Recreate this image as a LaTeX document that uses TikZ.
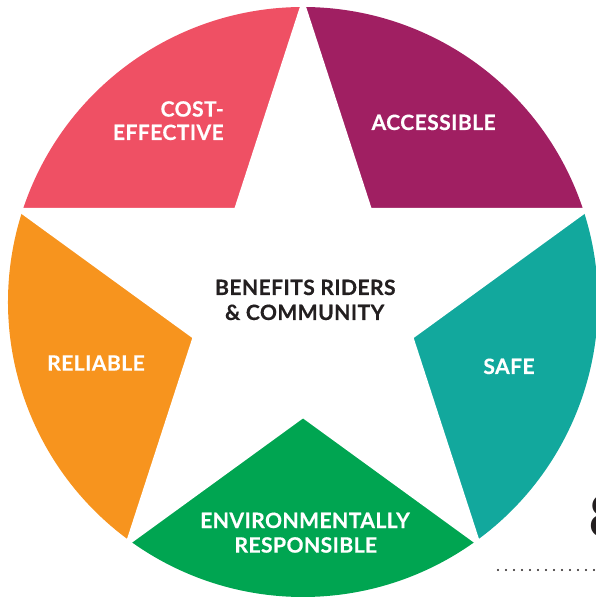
\documentclass[tikz,border=0pt]{standalone}
\usepackage{fontspec}
\newfontfamily\starfont{Lato}[LetterSpace=2, BoldFeatures={FakeBold=0.4}]
\tikzset{segtext/.style={inner sep=0pt}}
\begin{document}
\begin{tikzpicture}
                        \useasboundingbox (0.000000,0.000000) rectangle (14.900000,14.975000);
                        {\starfont\bfseries\fontsize{15}{18}\selectfont
                        
                        % Changing color 239 80 100
                        \definecolor{r239g80b100}{rgb}{0.937255,0.313725,0.392157}%
                        
                        % Drawing segment top upleft
                        \fill [r239g80b100] (7.575000,14.800000) arc [start angle=90, end angle=162, radius=7.375000] -- (5.919209,9.704000) -- cycle;%
                        
                        % Changing color 160 31 98
                        \definecolor{r160g31b98}{rgb}{0.627451,0.121569,0.384314}%
                        
                        % Drawing segment upright top
                        \fill [r160g31b98] (14.589042,9.704000) arc [start angle=18, end angle=90, radius=7.375000] -- (9.230791,9.704000) -- cycle;%
                        
                        % Changing color 18 168 157
                        \definecolor{r18g168b157}{rgb}{0.070588,0.658824,0.615686}%
                        
                        % Drawing segment downright upright
                        \fill [r18g168b157] (11.909917,1.458500) arc [start angle=-54, end angle=18, radius=7.375000] -- (10.254126,6.554499) -- cycle;%
                        
                        % Changing color 0 165 81
                        \definecolor{r0g165b81}{rgb}{0.000000,0.647059,0.317647}%
                        
                        % Drawing segment downleft downright
                        \fill [r0g165b81] (3.240083,1.458500) arc [start angle=234, end angle=306, radius=7.375000] -- (7.575000,4.608000) -- cycle;%
                        
                        % Changing color 247 148 30
                        \definecolor{r247g148b30}{rgb}{0.968627,0.580392,0.117647}%
                        
                        % Drawing segment upleft downleft
                        \fill [r247g148b30] (0.560958,9.704000) arc [start angle=162, end angle=234, radius=7.375000] -- (4.895874,6.554499) -- cycle;%
                        
                        % Drawing star top downleft upright upleft downright
                        \draw [white, line width=0.150000cm] (7.575000,14.800000) -- (3.240083,1.458500) -- (14.589042,9.704000) -- (0.560958,9.704000) -- (11.909917,1.458500) -- cycle;%
                        
                        % Marking segment texts
                        \color{white}%
                        \node (cost) at (5.600000,12.060000) [segtext, anchor=base east] {COST-};%
                        \node (effective) at (5.600000,11.475000) [segtext, anchor=base east] {EFFECTIVE};%
                        \node (accessible) at (10.840000,11.725000) [segtext, anchor=base] {ACCESSIBLE};%
                        \node (reliable) at (2.400000,5.710000) [segtext, anchor=base] {RELIABLE};%
                        \node (safe) at (12.725000,5.625000) [segtext, anchor=base] {SAFE};%
                        \node (environmentally) at (7.625000,1.775000) [segtext, anchor=base] {ENVIRONMENTALLY};%
                        \node (responsible) at (7.645000,1.160000) [segtext, anchor=base] {RESPONSIBLE};%
                        
                        % Changing color 35 31 32
                        \definecolor{r35g31b32}{rgb}{0.137255,0.121569,0.125490}%
                        \color{r35g31b32}%
                        
                        % Marking star text
                        \node (benefits) at (7.633000,7.600000) [segtext, anchor=base] {BENEFITS RIDERS};%
                        \node (community) at (7.617000,6.975000) [segtext, anchor=base] {\& COMMUNITY};%
                        
                        % Marking page number
                        \node (pagenum) at (14.700000,1.525000) [segtext, anchor=base west] {\mdseries\fontsize{42}{42}\selectfont 8};%
                        
                        % Drawing dotted rule
                        \coordinate (dotsstart) at (12.450000,0.725000);%
                        \coordinate (dotsend) at (15.000000,0.725000);%
                        \draw [line width=0.060000cm, line cap=round, dash pattern=on 0pt off 0.200000cm] (dotsstart) -- (dotsend);%
                        \color{black}
                        }
                        \end{tikzpicture}
\end{document}
